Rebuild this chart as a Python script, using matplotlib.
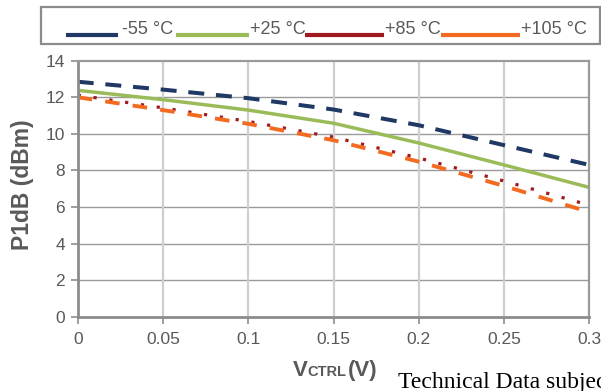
import matplotlib
matplotlib.use("Agg")
import matplotlib.pyplot as plt
from matplotlib.lines import Line2D
from matplotlib.patches import Rectangle

# P1dB vs control voltage, one curve per temperature
v_ctrl = [0, 0.05, 0.1, 0.15, 0.2, 0.25, 0.3]
p1db_m55 = [12.85, 12.42, 11.95, 11.33, 10.47, 9.38, 8.30]
p1db_p25 = [12.38, 11.87, 11.30, 10.58, 9.50, 8.30, 7.07]
p1db_p85 = [12.12, 11.42, 10.68, 9.82, 8.68, 7.42, 6.10]
p1db_p105 = [12.00, 11.30, 10.55, 9.65, 8.48, 7.15, 5.72]

labels = ["-55 °C", "+25 °C", "+85 °C", "+105 °C"]
colors = ["#1F3864", "#9BBB59", "#A0191E", "#F26B21"]
x_ticks = [0, 0.05, 0.1, 0.15, 0.2, 0.25, 0.3]
x_ticklabels = ["0", "0.05", "0.1", "0.15", "0.2", "0.25", "0.3"]
y_ticks = [0, 2, 4, 6, 8, 10, 12, 14]

W, H = 601, 391
plt.rcParams["font.family"] = ["Liberation Sans", "DejaVu Sans"]
plt.rcParams["lines.scale_dashes"] = False
gray = "#595959"

fig = plt.figure(figsize=(W / 100, H / 100), dpi=100)
ax = fig.add_axes([77.7 / W, 1 - 316.7 / H, (589.3 - 77.7) / W, (316.7 - 60.7) / H])


def fx(px):
    return px / W


def fy(py):
    return 1 - py / H


ax.plot(v_ctrl, p1db_m55, color=colors[0], lw=2.9, dashes=(11.5, 8.5), solid_capstyle="butt")
ax.plot(v_ctrl, p1db_p25, color=colors[1], lw=2.5)
ax.plot(v_ctrl, p1db_p85, color=colors[2], lw=2.3, dashes=(2.3, 9.2), dash_capstyle="butt")
ax.plot(v_ctrl, p1db_p105, color=colors[3], lw=2.8, dashes=(10.5, 9.5), dash_capstyle="butt")

ax.set_xlim(0, 0.3)
ax.set_ylim(0, 14)
ax.set_xticks(x_ticks)
ax.set_xticklabels(x_ticklabels)
ax.set_yticks(y_ticks)

for y in y_ticks[1:-1]:
    ax.axhline(y, color="#9a9a9a", lw=1.0, zorder=0)
for x in x_ticks[1:-1]:
    ax.axvline(x, color="#cfcfcf", lw=1.6, zorder=0)

for side in ["left", "bottom"]:
    ax.spines[side].set_color("#8c8c8c")
    ax.spines[side].set_linewidth(2.0)
for side in ["top", "right"]:
    ax.spines[side].set_color("#9a9a9a")
    ax.spines[side].set_linewidth(1.6)

ax.tick_params(axis="both", colors="#8c8c8c", labelcolor=gray, labelsize=12.5,
               length=5, width=1.2, direction="out")
ax.tick_params(axis="y", pad=4)
ax.tick_params(axis="x", pad=6)

# y axis title
fig.text(fx(23), fy(185), "P1dB (dBm)", rotation=90, ha="center", va="center",
         fontsize=16.5, fontweight="bold", color=gray)

# x axis title, CTRL set smaller on the same baseline
fig.text(fx(293), fy(376), "V", ha="left", va="baseline", fontsize=16,
         fontweight="bold", color=gray)
fig.text(fx(307.5), fy(376), "CTRL", ha="left", va="baseline", fontsize=10.5,
         fontweight="bold", color=gray)
fig.text(fx(348), fy(376), "(V)", ha="left", va="baseline", fontsize=16,
         fontweight="bold", color=gray)

fig.text(fx(398), fy(388), "Technical Data subject to change without notice",
         ha="left", va="baseline", fontsize=17, color="black",
         family=["Liberation Serif", "DejaVu Serif"])

# legend box across the top
fig.add_artist(Rectangle((fx(41), fy(44)), fx(600) - fx(41), fy(7) - fy(44),
                         transform=fig.transFigure, fill=False,
                         edgecolor="#8c8c8c", lw=1.6))
handle_x = [(66, 118), (176, 249), (305, 384), (441, 520)]
text_x = [122, 249.5, 385, 521]
for (x0, x1), tx, lab, c in zip(handle_x, text_x, labels, colors):
    fig.add_artist(Line2D([fx(x0), fx(x1)], [fy(34.5), fy(34.5)],
                          transform=fig.transFigure, color=c, lw=3.0,
                          solid_capstyle="butt"))
    fig.text(fx(tx), fy(33.5), lab, ha="left", va="baseline", fontsize=13,
             color=gray)

fig.savefig("out.png", dpi=100)
